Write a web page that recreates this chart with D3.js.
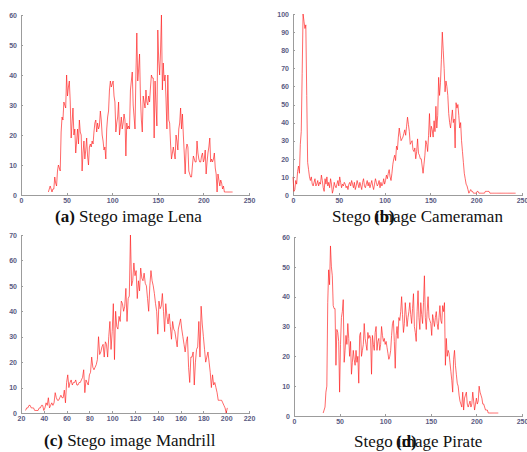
<!DOCTYPE html>
<head>
<meta charset="utf-8">
<title>Stego image histograms</title>
<script src="https://cdn.jsdelivr.net/npm/d3@7"></script>
<style>
body { margin: 0; background: #fff; }
.axis text { font: bold 7px "Liberation Sans", sans-serif; fill: #5a5a82; }
.axis path, .axis line { fill: none; stroke: #9c9c9c; shape-rendering: crispEdges; }
.caption { font-family: "Liberation Serif", serif; font-size: 17px; fill: #111; }
</style>
</head>
<body>
<script>
// histogram counts, one value per grey level, starting at the given level
var lenaStart = 30;
var lenaCounts = [
  1, 2, 3, 2, 1, 2, 2, 6, 4, 3,
  8, 10, 9, 8, 21, 26, 25, 31, 30, 29,
  40, 33, 36, 38, 31, 19, 24, 29, 20, 22,
  14, 18, 22, 17, 25, 21, 20, 8, 14, 18,
  12, 15, 19, 13, 10, 16, 17, 16, 18, 17,
  21, 24, 25, 21, 24, 22, 23, 28, 25, 20,
  18, 15, 16, 12, 22, 26, 28, 35, 38, 36,
  37, 38, 33, 31, 21, 24, 26, 31, 20, 23,
  26, 22, 24, 27, 25, 13, 24, 22, 23, 22,
  35, 38, 41, 30, 26, 22, 40, 54, 38, 42,
  47, 32, 25, 21, 33, 31, 29, 35, 31, 30,
  33, 31, 36, 40, 39, 39, 19, 38, 30, 23,
  55, 45, 40, 48, 60, 35, 44, 38, 40, 32,
  22, 40, 25, 24, 17, 12, 14, 16, 14, 12,
  20, 18, 15, 22, 24, 29, 22, 27, 20, 14,
  7, 15, 17, 16, 8, 7, 6, 6, 10, 13,
  12, 11, 11, 18, 14, 12, 11, 11, 13, 14,
  11, 12, 15, 7, 11, 14, 16, 19, 11, 12,
  11, 12, 14, 9, 7, 1, 7, 5, 3, 5,
  4, 2, 3, 1, 1, 1, 1, 1, 1, 1,
  1, 1, 1
];

var cameraStart = 0;
var cameraCounts = [
  10, 2, 3, 8, 6, 13, 16, 12, 28, 35,
  67, 100, 96, 92, 94, 55, 18, 14, 10, 8,
  10, 6, 5, 7, 9, 5, 6, 8, 5, 7,
  6, 11, 8, 4, 2, 9, 6, 10, 5, 7,
  4, 9, 6, 1, 3, 7, 5, 4, 6, 8,
  5, 10, 7, 4, 6, 5, 7, 6, 4, 5,
  3, 6, 7, 5, 8, 6, 4, 7, 3, 5,
  8, 6, 4, 7, 5, 3, 7, 9, 5, 4,
  6, 8, 5, 7, 4, 6, 8, 5, 3, 6,
  9, 7, 5, 6, 8, 4, 7, 5, 6, 9,
  6, 8, 11, 9, 12, 14, 10, 8, 12, 17,
  20, 22, 19, 27, 25, 32, 37, 33, 30, 31,
  32, 34, 36, 33, 38, 43, 39, 35, 28, 29,
  30, 25, 24, 26, 20, 24, 31, 23, 22, 20,
  20, 16, 12, 17, 22, 30, 28, 24, 33, 45,
  32, 38, 36, 32, 41, 35, 49, 37, 44, 65,
  55, 62, 75, 90, 80, 70, 57, 63, 60, 55,
  45, 40, 37, 42, 47, 40, 42, 26, 51, 48,
  50, 44, 37, 40, 30, 24, 18, 12, 9, 6,
  5, 3, 1, 2, 3, 2, 2, 1, 1, 1,
  1, 2, 2, 1, 1, 1, 1, 1, 1, 1,
  2, 2, 2, 2, 2, 1, 1, 1, 1, 1,
  1, 1, 1, 1, 1, 1, 1, 1, 1, 1,
  1, 1, 1, 1, 1, 1, 1, 1, 1, 1,
  1, 1, 1, 1
];

var mandrillStart = 24;
var mandrillCounts = [
  1, 2, 2, 3, 3, 2,
  2, 2, 1, 1, 1, 1, 2, 2, 3, 3,
  1, 2, 4, 3, 6, 2, 3, 4, 3, 4,
  8, 6, 5, 5, 6, 7, 6, 6, 9, 4,
  12, 15, 10, 12, 13, 11, 12, 12, 13, 11,
  11, 12, 12, 13, 14, 17, 8, 13, 12, 11,
  15, 16, 22, 18, 17, 18, 19, 21, 30, 23,
  24, 26, 27, 22, 28, 27, 22, 30, 36, 25,
  32, 43, 21, 40, 34, 33, 38, 36, 44, 43,
  40, 42, 49, 36, 45, 46, 70, 50, 52, 59,
  54, 56, 45, 52, 48, 57, 53, 52, 55, 51,
  50, 45, 40, 50, 56, 52, 50, 47, 43, 40,
  31, 44, 41, 42, 47, 40, 32, 43, 38, 35,
  39, 34, 29, 36, 33, 32, 29, 26, 33, 35,
  37, 33, 30, 27, 24, 28, 30, 18, 12, 22,
  22, 24, 11, 20, 25, 26, 36, 22, 42, 35,
  30, 25, 20, 22, 24, 20, 16, 10, 15, 11,
  12, 10, 8, 5, 5, 5, 5, 4, 3, 2,
  0, 2
];

var pirateStart = 32;
var pirateCounts = [
  1, 2, 3, 8, 10, 38, 49, 44,
  57, 50, 47, 37, 36, 36, 17, 29, 28, 25,
  8, 24, 33, 35, 39, 18, 22, 27, 24, 31,
  26, 20, 25, 14, 18, 22, 19, 17, 22, 18,
  20, 11, 27, 28, 20, 22, 24, 31, 26, 24,
  22, 28, 26, 27, 26, 14, 27, 24, 22, 28,
  30, 22, 25, 26, 22, 24, 30, 27, 25, 26,
  24, 25, 23, 21, 19, 20, 22, 27, 31, 32,
  25, 16, 27, 30, 26, 33, 32, 35, 40, 34,
  28, 31, 38, 34, 30, 33, 35, 38, 34, 31,
  36, 41, 30, 28, 25, 35, 42, 33, 29, 38,
  34, 31, 38, 47, 33, 29, 35, 40, 33, 32,
  31, 27, 34, 32, 30, 33, 35, 31, 29, 33,
  37, 32, 31, 37, 35, 38, 17, 26, 20, 22,
  21, 18, 15, 12, 8, 19, 22, 17, 14, 11,
  10, 7, 5, 4, 3, 8, 2, 6, 7, 8,
  4, 3, 4, 5, 3, 4, 8, 5, 2, 4,
  6, 4, 5, 10, 8, 7, 6, 4, 4, 3,
  2, 2, 2, 1, 1, 1, 1, 1, 1, 1,
  1, 1, 1, 1, 1
];

var width = 527, height = 452;

var svg = d3.select("body").append("svg")
  .attr("width", width)
  .attr("height", height);

function histPanel(start, counts, box, xDomain, xStep, yMax) {
  var x = d3.scaleLinear().domain(xDomain).range([box.left, box.right]);
  var y = d3.scaleLinear().domain([0, yMax]).range([box.bottom, box.top]);

  var g = svg.append("g");

  g.append("g")
    .attr("class", "axis")
    .attr("transform", "translate(0," + box.bottom + ")")
    .call(d3.axisBottom(x).tickValues(d3.range(xDomain[0], xDomain[1] + 1, xStep))
      .tickSizeInner(-2).tickSizeOuter(0).tickPadding(3));

  g.append("g")
    .attr("class", "axis")
    .attr("transform", "translate(" + box.left + ",0)")
    .call(d3.axisLeft(y).tickValues(d3.range(0, yMax + 1, 10))
      .tickSizeInner(-2).tickSizeOuter(0).tickPadding(4));

  var line = d3.line()
    .x(function(d, i) { return x(start + i); })
    .y(function(d) { return y(d); });

  g.append("path")
    .datum(counts)
    .attr("d", line)
    .attr("fill", "none")
    .attr("stroke", "#ff2020")
    .attr("stroke-width", 0.9)
    .attr("stroke-opacity", 0.75);
}

histPanel(lenaStart, lenaCounts, {left: 21, right: 249, top: 15, bottom: 195}, [0, 250], 50, 60);
histPanel(cameraStart, cameraCounts, {left: 293, right: 522, top: 14, bottom: 195}, [0, 250], 50, 100);
histPanel(mandrillStart, mandrillCounts, {left: 21, right: 249, top: 235, bottom: 413}, [20, 220], 20, 70);
histPanel(pirateStart, pirateCounts, {left: 294, right: 522, top: 237, bottom: 416}, [0, 250], 50, 60);

// captions (b) and (d) have their label sitting on top of the word "image", as in the source
function caption(x, yBase, label, rest) {
  var t = svg.append("text").attr("class", "caption").attr("x", x).attr("y", yBase);
  if (label) t.append("tspan").attr("font-weight", "bold").text(label + " ");
  t.append("tspan").text(rest);
}
caption(55, 222, "(a)", "Stego image Lena");
caption(332, 222, null, "Stego image Cameraman");
svg.append("text").attr("class", "caption").attr("x", 374).attr("y", 222)
  .attr("font-weight", "bold").text("(b)");
caption(44, 446, "(c)", "Stego image Mandrill");
caption(354, 447, null, "Stego image Pirate");
svg.append("text").attr("class", "caption").attr("x", 396).attr("y", 447)
  .attr("font-weight", "bold").text("(d)");
</script>
</body>
